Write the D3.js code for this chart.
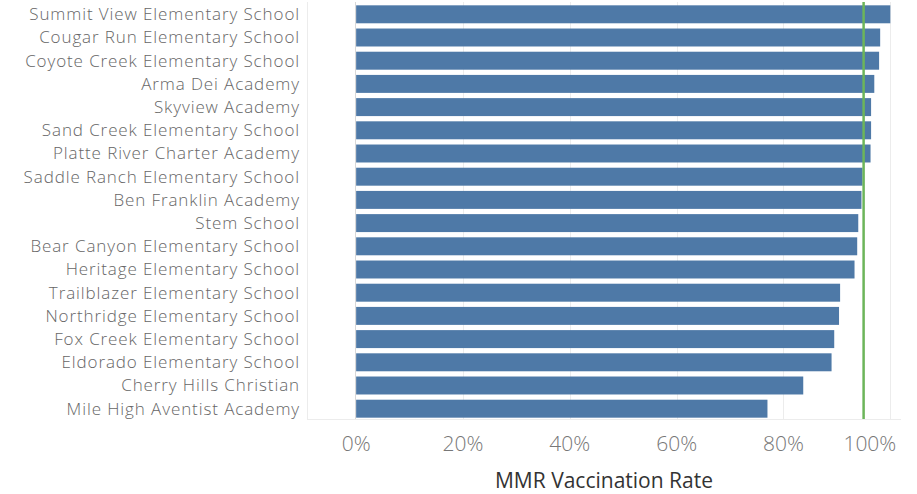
<!DOCTYPE html>
<html>
<head>
<meta charset="utf-8">
<title>MMR Vaccination Rate</title>
<script src="https://d3js.org/d3.v7.min.js"></script>
<style>
  body { margin: 0; padding: 0; background: #fff; font-family: "Open Sans", sans-serif; }
</style>
</head>
<body>
<div id="chart"></div>
<script>
// data
var schools = [
  "Summit View Elementary School", "Cougar Run Elementary School", "Coyote Creek Elementary School",
  "Arma Dei Academy", "Skyview Academy", "Sand Creek Elementary School",
  "Platte River Charter Academy", "Saddle Ranch Elementary School", "Ben Franklin Academy",
  "Stem School", "Bear Canyon Elementary School", "Heritage Elementary School",
  "Trailblazer Elementary School", "Northridge Elementary School", "Fox Creek Elementary School",
  "Eldorado Elementary School", "Cherry Hills Christian", "Mile High Aventist Academy"
]
var rates = [1.0, 0.981, 0.979, 0.970, 0.964, 0.964, 0.963, 0.948, 0.946,
             0.940, 0.938, 0.933, 0.906, 0.904, 0.895, 0.890, 0.837, 0.770]
var target = 0.95
var ticks = [0, 0.2, 0.4, 0.6, 0.8, 1.0]

var width = 917, height = 494
var pane = { left: 307, right: 901, top: 2, bottom: 419 }

var svg = d3.select("#chart").append("svg")
    .attr("width", width)
    .attr("height", height)

var x = d3.scaleLinear()
    .domain([-0.092, 1.02])
    .range([pane.left, pane.right])

var y = d3.scaleBand()
    .domain(schools)
    .range([pane.top + 1, pane.bottom + 1])
    .paddingInner(0.2255)
    .paddingOuter(0.1)

// gridlines
svg.selectAll("line.grid")
    .data(ticks.slice(1))
    .enter().append("line")
    .attr("class", "grid")
    .attr("x1", function (d) { return Math.round(x(d)) + 0.5 })
    .attr("x2", function (d) { return Math.round(x(d)) + 0.5 })
    .attr("y1", pane.top)
    .attr("y2", pane.bottom)
    .attr("stroke", "#ececec")

// pane left border + baseline
svg.append("line")
    .attr("x1", pane.left + 0.5).attr("x2", pane.left + 0.5)
    .attr("y1", pane.top).attr("y2", pane.bottom)
    .attr("stroke", "#ececec")
svg.append("line")
    .attr("x1", pane.left).attr("x2", pane.right)
    .attr("y1", pane.bottom + 0.5).attr("y2", pane.bottom + 0.5)
    .attr("stroke", "#ececec")

// zero line
svg.append("line")
    .attr("x1", Math.round(x(0)) - 0.5).attr("x2", Math.round(x(0)) - 0.5)
    .attr("y1", pane.top).attr("y2", pane.bottom)
    .attr("stroke", "#d8d8d8")

// bars
svg.selectAll("rect.bar")
    .data(schools)
    .enter().append("rect")
    .attr("class", "bar")
    .attr("x", x(0))
    .attr("y", function (d) { return y(d) })
    .attr("width", function (d, i) { return x(rates[i]) - x(0) })
    .attr("height", y.bandwidth())
    .attr("fill", "#4e79a7")

// target reference line
svg.append("line")
    .attr("x1", x(target)).attr("x2", x(target))
    .attr("y1", pane.top).attr("y2", pane.bottom)
    .attr("stroke", "#6cb55a")
    .attr("stroke-width", 2.5)

// school labels
svg.selectAll("text.label")
    .data(schools)
    .enter().append("text")
    .attr("class", "label")
    .attr("x", 300)
    .attr("y", function (d) { return y(d) + y.bandwidth() / 2 })
    .attr("dy", "0.35em")
    .attr("text-anchor", "end")
    .attr("font-size", 17)
    .attr("font-weight", 300)
    .attr("letter-spacing", 0.9)
    .attr("fill", "#666")
    .text(function (d) { return d })

// tick labels
svg.selectAll("text.tick")
    .data(ticks)
    .enter().append("text")
    .attr("class", "tick")
    .attr("x", function (d) { return d === 1 ? x(d) + 6 : x(d) })
    .attr("y", 444)
    .attr("dy", "0.35em")
    .attr("text-anchor", function (d) { return d === 1 ? "end" : "middle" })
    .attr("font-size", 21)
    .attr("font-weight", 300)
    .attr("fill", "#777")
    .text(function (d) { return d3.format(".0%")(d) })

// axis title
svg.append("text")
    .attr("x", (pane.left + pane.right) / 2)
    .attr("y", 481)
    .attr("dy", "0.35em")
    .attr("text-anchor", "middle")
    .attr("font-size", 21)
    .attr("fill", "#333")
    .text("MMR Vaccination Rate")
</script>
</body>
</html>
